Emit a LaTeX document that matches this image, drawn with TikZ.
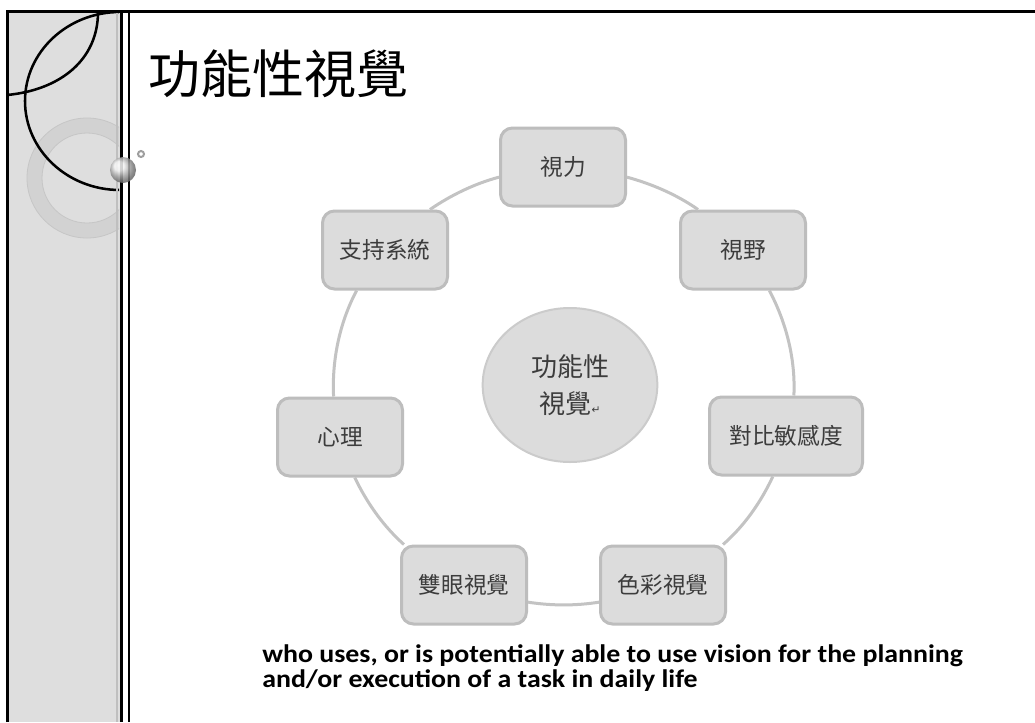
\documentclass[tikz,border=0pt]{standalone}
\usepackage{fontspec}
\setmainfont{Carlito}
\newfontfamily\cjk{Noto Sans CJK TC}
\newfontfamily\djv{DejaVu Sans}
\usetikzlibrary{shapes.geometric}
\definecolor{stripgray}{HTML}{DEDEDE}
\definecolor{ringgray}{HTML}{C4C4C4}
\definecolor{boxfill}{HTML}{DCDCDC}
\definecolor{boxline}{HTML}{BDBDBD}
\definecolor{boxtext}{HTML}{3C3C3C}
\definecolor{ringline}{HTML}{C3C3C3}
\definecolor{circline}{HTML}{CBCBCB}
\begin{document}
\begin{tikzpicture}[x=0.75pt,y=-0.75pt,
  box/.style={draw=boxline, fill=boxfill, line width=2.25pt, rounded corners=9pt,
    minimum width=93.75pt, minimum height=58.5pt, inner sep=2pt,
    font=\cjk\fontsize{17}{20}\selectfont, text=boxtext},
  ringedge/.style={draw=ringline, line width=2.25pt, looseness=0.86},
  deftext/.style={anchor=base west, inner sep=0pt, xscale=1.1,
    font=\bfseries\fontsize{19}{22}\selectfont}]
\useasboundingbox (0,0) rectangle (1035,722);
\fill[white] (0,0) rectangle (1035,722);
% left strip
\fill[stripgray] (7,11) rectangle (120,722);
\begin{scope}
  \clip (7,11) rectangle (119,722);
  \fill[ringgray, opacity=0.45, even odd rule] (87,178) circle[radius=60] (87,178) circle[radius=45];
  \draw[gray!45, line width=0.6pt] (87,178) circle[radius=60] (87,178) circle[radius=45];
  \draw[line width=1.9pt] (120,101) ellipse[x radius=95, y radius=89];
  \draw[line width=1.9pt] (98,12) .. controls (98,60) and (60,90) .. (7,95);
\end{scope}
\draw[gray!50, line width=1.5pt] (117,12) -- (117,722);
\draw[line width=2.25pt] (7,722) -- (7,11) -- (1035,11);
\draw[line width=2.25pt] (121,11) -- (121,722);
\draw[line width=1.5pt] (129,11) -- (129,722);
\shade[ball color=gray!12, opacity=0.85] (123,170) circle[radius=13];
\draw[gray!75, line width=1.5pt] (141,154) circle[radius=3];
% title
\node[anchor=west, inner sep=0pt, font=\cjk\fontsize{39}{42}\selectfont] (title) at (148,74) {功能性視覺};
% cycle
\node[box] (shili) at (563,167) {視力};
\node[box] (shiye) at (743,250) {視野};
\node[box, minimum width=114.75pt] (duibi) at (786,436) {對比敏感度};
\node[box] (secai) at (663,585) {色彩視覺};
\node[box] (shuangyan) at (464,585) {雙眼視覺};
\node[box] (xinli) at (340,437) {心理};
\node[box] (zhichi) at (385,250) {支持系統};
\node[ellipse, draw=circline, fill=boxfill, line width=1.5pt, minimum width=131pt,
  minimum height=115.5pt, align=center, text=boxtext,
  font=\cjk\fontsize{19.5}{27.75}\selectfont] (hub) at (570,385)
  {功能性\\視覺{\djv\fontsize{8}{8}\selectfont ↵}};
\draw[ringedge] (shili.-9.8) to[out=-15.4, in=145.2] (shiye.138.4);
\draw[ringedge] (shiye.-57.3) to[out=-62, in=87.2] (duibi.79.8);
\draw[ringedge] (duibi.-108.4) to[out=-115, in=41.2] (secai.34.2);
\draw[ringedge] (secai.195.3) to[out=189, in=-8.8] (shuangyan.-15.3);
\draw[ringedge] (shuangyan.146.5) to[out=138.3, in=-64.4] (xinli.-70.7);
\draw[ringedge] (xinli.99.9) to[out=92.8, in=242] (zhichi.235.3);
\draw[ringedge] (zhichi.42.3) to[out=34.3, in=195.1] (shili.189);
% definition text
\node[deftext] (line1) at (262,662) {who uses, or is potentially able to use vision for the planning};
\node[deftext] (line2) at (262,687) {and/or execution of a task in daily life};
\end{tikzpicture}
\end{document}
